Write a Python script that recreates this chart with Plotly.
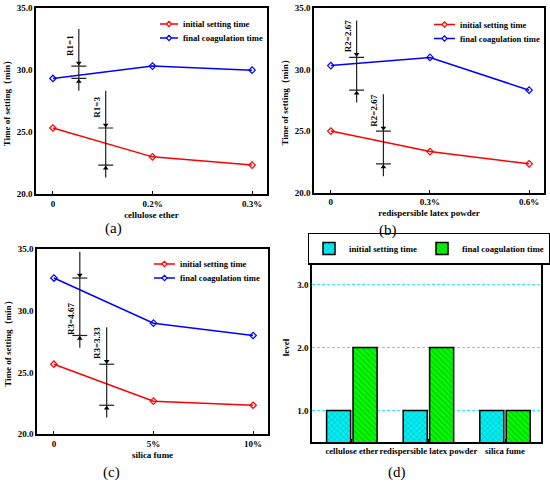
import plotly.graph_objects as go

# ---------------- data ----------------
cats_a = ["0", "0.2%", "0.3%"]
init_a = [25.333, 23.0, 22.333]
final_a = [29.333, 30.333, 30.0]

cats_b = ["0", "0.3%", "0.6%"]
init_b = [25.0, 23.333, 22.333]
final_b = [30.333, 31.0, 28.333]

cats_c = ["0", "5%", "10%"]
init_c = [25.667, 22.667, 22.333]
final_c = [32.667, 29.0, 28.0]

factors = ["cellulose ether", "redispersible latex powder", "silica fume"]
level_init = [1, 1, 1]
level_final = [2, 2, 1]

series_names = ["initial setting time", "final coagulation time"]
range_prefix = ["R1", "R2", "R3"]

# ---------------- styling ----------------
FONT = "Liberation Serif"
RED = "#FF0000"
BLUE = "#0000FF"
W, H = 550, 484

fig = go.Figure()

def px_x(v):
    return v / W

def px_y(v):
    return 1 - v / H

panels = [
    dict(ax="", cats=cats_a, init=init_a, final=final_a, title="cellulose ether",
         dx=[px_x(36), px_x(267)], dy=[px_y(194), px_y(8.3)], pref=range_prefix[0],
         leg=(160, 178, 24, 38)),
    dict(ax="2", cats=cats_b, init=init_b, final=final_b, title="redispersible latex powder",
         dx=[px_x(314), px_x(544)], dy=[px_y(192.5), px_y(8.3)], pref=range_prefix[1],
         leg=(434, 455, 24.5, 38.5)),
    dict(ax="3", cats=cats_c, init=init_c, final=final_c, title="silica fume",
         dx=[px_x(37), px_x(268)], dy=[px_y(434), px_y(249.3)], pref=range_prefix[2],
         leg=(154, 175, 264, 278)),
]

def fmt_r(r):
    return f"{r:.2f}".rstrip("0").rstrip(".")

annotations = []
shapes = []
axis_common = dict(showline=True, mirror=True, linecolor="black", linewidth=1.5,
                   showgrid=False, zeroline=False, automargin=False,
                   tickfont=dict(family=FONT, size=9, color="black", weight="bold"))

for p in panels:
    xa = "x" + p["ax"]
    ya = "y" + p["ax"]
    xs = list(range(len(p["cats"])))
    for vals, col, nm in ((p["init"], RED, series_names[0]), (p["final"], BLUE, series_names[1])):
        fig.add_trace(go.Scatter(x=xs, y=vals, mode="lines+markers", name=nm, showlegend=False,
                                 line=dict(color=col, width=1.5),
                                 marker=dict(symbol="diamond-open", size=5, color=col, line=dict(width=1.2)),
                                 xaxis=xa, yaxis=ya))
    # legend (drawn manually for compact spacing)
    x0, x1, r1, r2 = p["leg"]
    for (col, nm, ry) in ((RED, series_names[0], r1), (BLUE, series_names[1], r2)):
        shapes.append(dict(type="line", xref="paper", yref="paper", x0=px_x(x0), x1=px_x(x1),
                           y0=px_y(ry), y1=px_y(ry), line=dict(color=col, width=1.5)))
        shapes.append(dict(type="path", xref="paper", yref="paper", xsizemode="pixel", ysizemode="pixel",
                           xanchor=px_x((x0 + x1) / 2), yanchor=px_y(ry),
                           path="M-2.6,0L0,2.6L2.6,0L0,-2.6Z", fillcolor="white",
                           line=dict(color=col, width=1.2)))
        annotations.append(dict(x=px_x(x1 + 3), y=px_y(ry), xref="paper", yref="paper", text=nm,
                                showarrow=False, xanchor="left", yanchor="middle",
                                font=dict(family=FONT, size=8.6, color="black", weight="bold")))
    # range (dimension) marks
    for series, xpos in ((p["final"], 0.26), (p["init"], 0.53)):
        lo, hi = min(series), max(series)
        r = hi - lo
        top = min(hi + 3, 34.8)
        bot = lo - 1
        fig.add_trace(go.Scatter(x=[xpos, xpos], y=[bot, top], mode="lines",
                                 line=dict(color="#222222", width=1.2), showlegend=False,
                                 hoverinfo="skip", xaxis=xa, yaxis=ya))
        for v in (lo, hi):
            fig.add_trace(go.Scatter(x=[xpos - 0.075, xpos + 0.075], y=[v, v], mode="lines",
                                     line=dict(color="#222222", width=1.2), showlegend=False,
                                     hoverinfo="skip", xaxis=xa, yaxis=ya))
        fig.add_trace(go.Scatter(x=[xpos, xpos], y=[hi + 0.25, lo - 0.25], mode="markers",
                                 marker=dict(symbol=["triangle-down", "triangle-up"], size=5, color="black"),
                                 showlegend=False, hoverinfo="skip", xaxis=xa, yaxis=ya))
        ly = hi + 1.7
        if ly > 33.2:
            ly = (hi + lo) / 2 - 1
        annotations.append(dict(x=xpos - 0.09, y=ly, xref=xa, yref=ya, text=f"{p['pref']}={fmt_r(r)}",
                                textangle=-90, showarrow=False, xanchor="center", yanchor="middle",
                                font=dict(family=FONT, size=9, color="black", weight="bold")))

    fig.update_layout(**{
        "xaxis" + p["ax"]: dict(domain=p["dx"], anchor=ya, range=[-0.17, 2.15], tickvals=xs,
                                ticktext=p["cats"], ticks="inside", ticklen=3, tickcolor="black",
                                tickangle=0,
                                title=dict(text=p["title"], standoff=4,
                                           font=dict(family=FONT, size=9, color="black", weight="bold")),
                                **axis_common),
        "yaxis" + p["ax"]: dict(domain=p["dy"], anchor=xa, range=[20, 35], dtick=5, tick0=20,
                                tickformat=".1f", ticks="",
                                title=dict(text="Time of setting（min）", standoff=5,
                                           font=dict(family=FONT, size=9, color="black", weight="bold")),
                                **axis_common),
    })

# ---------------- panel d: bar chart ----------------
fig.add_trace(go.Bar(x=factors, y=level_init, name=series_names[0],
                     marker=dict(color="#00F0F0", line=dict(color="black", width=1.5),
                                 pattern=dict(shape="x", size=4, solidity=0.35, fgcolor="#2090B0")),
                     xaxis="x4", yaxis="y4", legend="legend"))
fig.add_trace(go.Bar(x=factors, y=level_final, name=series_names[1],
                     marker=dict(color="#00FF00", line=dict(color="black", width=1.5),
                                 pattern=dict(shape="\\", size=4, solidity=0.35, fgcolor="#1F8F1F")),
                     xaxis="x4", yaxis="y4", legend="legend"))

fig.update_layout(
    xaxis4=dict(domain=[px_x(312), px_x(541)], anchor="y4", range=[-0.52, 2.47],
                ticks="inside", ticklen=3, tickcolor="black", tickangle=0,
                showline=True, mirror=True, linecolor="black", linewidth=1.5,
                showgrid=False, zeroline=False, automargin=False,
                tickfont=dict(family=FONT, size=8.7, color="black", weight="bold")),
    yaxis4=dict(domain=[px_y(442), px_y(253)], anchor="x4", range=[0.5, 3.5],
                tickvals=[1, 2, 3], tickformat=".1f", ticks="", automargin=False,
                showline=True, mirror=True, linecolor="black", linewidth=1.5,
                showgrid=True, gridcolor="#33EEFF", gridwidth=1, griddash="3px,2px", zeroline=False,
                tickfont=dict(family=FONT, size=9, color="black", weight="bold"),
                title=dict(text="level", standoff=6,
                           font=dict(family=FONT, size=9, color="black", weight="bold"))),
    barmode="group", bargap=0.31, bargroupgap=0.09,
)

# ---------------- legend for panel d ----------------
fig.update_layout(
    showlegend=True,
    legend=dict(x=px_x(429), y=px_y(248.5), xanchor="center", yanchor="middle", orientation="h",
                font=dict(family=FONT, size=8.8, color="black", weight="bold"),
                bgcolor="white", bordercolor="black", borderwidth=1.5, itemwidth=30),
)

# panel labels
for lab, x, y in (("(a)", 113, 229), ("(b)", 388, 230), ("(c)", 111, 472), ("(d)", 397, 472)):
    annotations.append(dict(x=px_x(x), y=px_y(y), xref="paper", yref="paper", text=lab,
                            showarrow=False, xanchor="center", yanchor="middle",
                            font=dict(family=FONT, size=15, color="black")))

fig.update_layout(annotations=annotations, shapes=shapes, width=W, height=H,
                  margin=dict(l=0, r=0, t=0, b=0, autoexpand=False),
                  paper_bgcolor="white", plot_bgcolor="white",
                  font=dict(family=FONT, color="black"))

fig.write_html("out.html", config={"displayModeBar": False},
               post_script="document.body.style.margin='0';document.body.style.overflow='hidden';")
